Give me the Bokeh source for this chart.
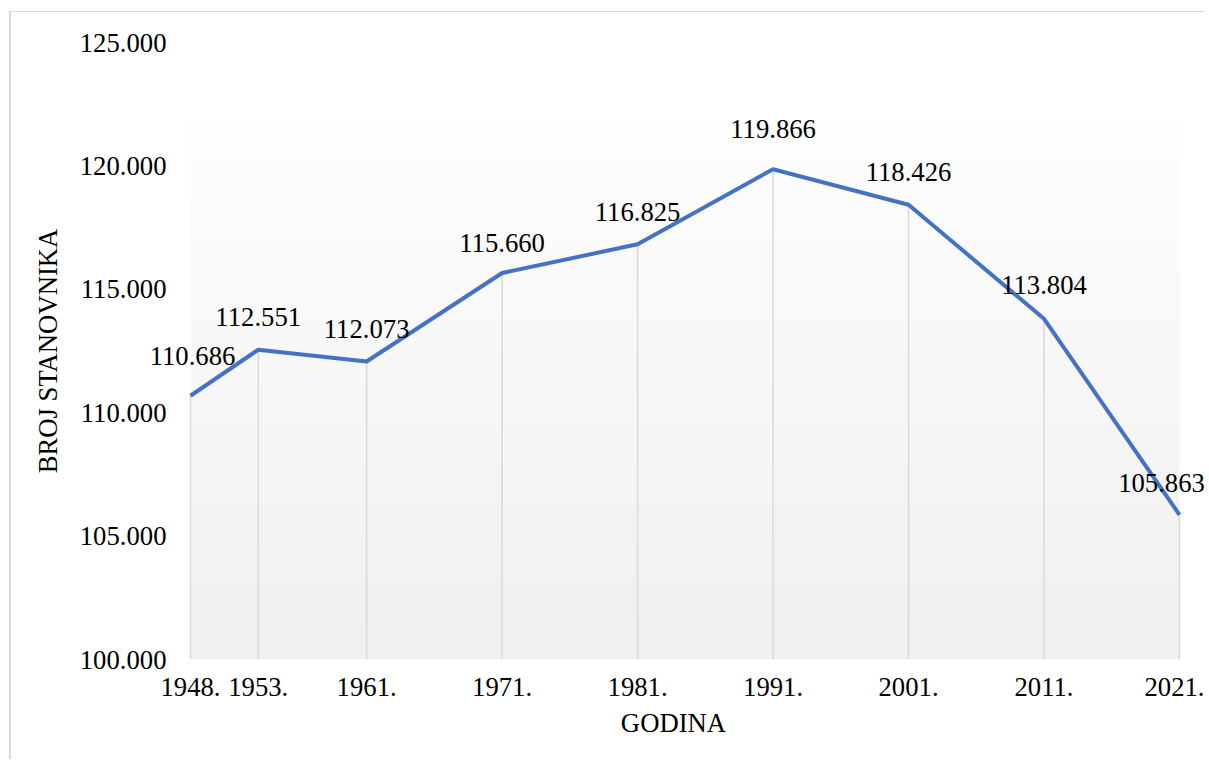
import numpy as np
from bokeh.plotting import figure
from bokeh.models import ColumnDataSource, LabelSet, Range1d, FixedTicker
from bokeh.core.properties import value
from bokeh.embed import file_html
from bokeh.resources import INLINE

# ---- data ----
years = [1948, 1953, 1961, 1971, 1981, 1991, 2001, 2011, 2021]
year_labels = ["1948.", "1953.", "1961.", "1971.", "1981.", "1991.", "2001.", "2011.", "2021."]
population = [110686, 112551, 112073, 115660, 116825, 119866, 118426, 113804, 105863]
pop_labels = ["110.686", "112.551", "112.073", "115.660", "116.825", "119.866", "118.426", "113.804", "105.863"]
y_ticks = [100000, 105000, 110000, 115000, 120000, 125000]
y_tick_labels = ["100.000", "105.000", "110.000", "115.000", "120.000", "125.000"]

# label placement tweaks (screen px)
label_dx = [2, 0, 0, 0, 0, 0, 0, 0, -18]
label_dy = [40, 33, 33, 30, 32, 40, 33, 34, 32]

FONT = "Liberation Serif"
FS = "26.7px"

W, H = 1195, 748
# canvas pixel targets for first/last year and frame edges
px_first, px_last = 179, 1168
frame_left, frame_right = 129, W
frame_top, frame_bottom = 30, 647
ppy = (px_last - px_first) / (years[-1] - years[0])
x_start = years[0] - (px_first - frame_left) / ppy
x_end = years[-1] + (frame_right - px_last) / ppy

y0, y1 = y_ticks[0], y_ticks[-1]

p = figure(width=W, height=H, output_backend="svg", toolbar_location=None,
           x_range=Range1d(x_start, x_end), y_range=Range1d(y0, y1),
           min_border_left=frame_left, min_border_right=0,
           min_border_top=frame_top, min_border_bottom=H - frame_bottom)
p.outline_line_color = None
p.background_fill_color = "white"
p.border_fill_color = "white"
p.grid.visible = False

# gradient plot-area background
grad_top = 121800
n = 200
t = np.linspace(0, 1, n)  # 0 bottom -> 1 top
c = (240 + (254 - 240) * t).astype(np.uint32)
img = np.empty((n, 1), dtype=np.uint32)
view = img.view(dtype=np.uint8).reshape((n, 1, 4))
view[:, 0, 0] = c
view[:, 0, 1] = c
view[:, 0, 2] = c
view[:, 0, 3] = 255
p.image_rgba(image=[img], x=years[0], y=y0, dw=years[-1] - years[0], dh=grad_top - y0)

src = ColumnDataSource(dict(x=years, y=population, base=[y0] * len(years), lab=pop_labels,
                            dx=label_dx, dy=label_dy))

# drop lines
p.segment(x0="x", y0="base", x1="x", y1="y", source=src, line_color="#d9d9d9", line_width=1.5)
# main line
p.line(x="x", y="y", source=src, line_color="#4472C4", line_width=4, line_join="round")

labels = LabelSet(x="x", y="y", text="lab", source=src, x_offset="dx", y_offset="dy",
                  text_align="center", text_baseline="middle",
                  text_font=value(FONT), text_font_size=value(FS), text_color="black")
p.add_layout(labels)

# axes
p.xaxis.ticker = FixedTicker(ticks=years)
p.xaxis.major_label_overrides = {y: l for y, l in zip(years, year_labels)}
p.yaxis.ticker = FixedTicker(ticks=y_ticks)
p.yaxis.major_label_overrides = {v: l for v, l in zip(y_ticks, y_tick_labels)}
for ax in (p.xaxis, p.yaxis):
    ax.axis_line_color = None
    ax.major_tick_line_color = None
    ax.minor_tick_line_color = None
    ax.major_tick_out = 0
    ax.major_tick_in = 0
    ax.major_label_text_font = FONT
    ax.major_label_text_font_size = FS
    ax.major_label_text_color = "black"
    ax.axis_label_text_font = FONT
    ax.axis_label_text_font_size = FS
    ax.axis_label_text_font_style = "normal"
    ax.axis_label_text_color = "black"
p.xaxis.axis_label = "GODINA"
p.yaxis.axis_label = "BROJ STANOVNIKA"
p.xaxis.major_label_standoff = 18
p.yaxis.major_label_standoff = -26
p.xaxis.axis_label_standoff = 9
p.yaxis.axis_label_standoff = 14

# chart-area border (top and left edges visible in the window)
p.styles = {"margin-left": "9px", "margin-top": "11px",
            "border-left": "2px solid #d9d9d9", "border-top": "1px solid #d9d9d9"}

open("out.html", "w").write(file_html(p, INLINE))
